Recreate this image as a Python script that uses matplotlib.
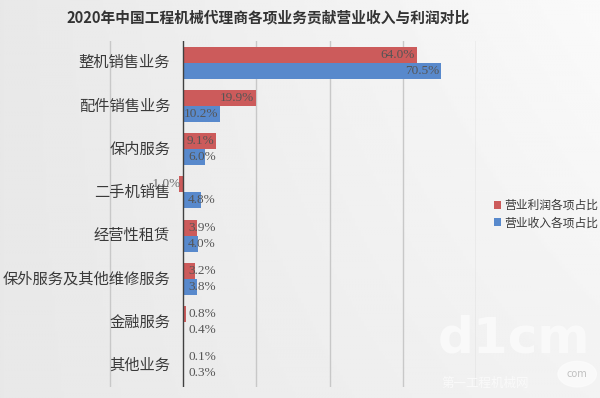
import numpy as np
import matplotlib
matplotlib.use('Agg')
import matplotlib.pyplot as plt
from matplotlib.patches import Circle

plt.rcParams['font.family'] = ['Noto Sans CJK SC', 'DejaVu Sans']

title = '2020年中国工程机械代理商各项业务贡献营业收入与利润对比'
categories = ['整机销售业务', '配件销售业务', '保内服务', '二手机销售',
              '经营性租赁', '保外服务及其他维修服务', '金融服务', '其他业务']
profit_share = [64.0, 19.9, 9.1, -1.0, 3.9, 3.2, 0.8, 0.1]
revenue_share = [70.5, 10.2, 6.0, 4.8, 4.0, 3.8, 0.4, 0.3]
series_names = ['营业利润各项占比', '营业收入各项占比']

red = '#cc5b5b'
blue = '#5889cc'

fig = plt.figure(figsize=(6, 3.98), dpi=100)

# soft gray background gradient
bg = fig.add_axes([0, 0, 1, 1], zorder=-10)
gx, gy = np.meshgrid(np.linspace(0, 1, 200), np.linspace(0, 1, 200))
shade = 0.91 + 0.07 * gx - 0.03 * gy * gx
bg.imshow(shade, cmap='gray', vmin=0, vmax=1, aspect='auto',
          extent=[0, 1, 0, 1], origin='upper')
bg.axis('off')

# axes: 0% at x=183px, 80% at x=476px
x0, x1 = 10 / 600, 476 / 600
ax = fig.add_axes([x0, 1 - 387 / 398, x1 - x0, (387 - 41) / 398])
ax.patch.set_alpha(0)
xmin = -(183 - 10) / ((476 - 183) / 80)
ax.set_xlim(xmin, 80)
ax.set_ylim(len(categories) - 0.5, -0.5)

y = np.arange(len(categories))
h = 0.37
ax.barh(y - h / 2, profit_share, height=h, color=red, label=series_names[0])
ax.barh(y + h / 2, revenue_share, height=h, color=blue, label=series_names[1])

ax.set_xticks([-20, 20, 40, 60, 80])
ax.grid(axis='x', color='#c8c8c8', linewidth=1.0)
ax.set_axisbelow(True)
ax.tick_params(length=0, labelbottom=False, labelleft=False)
for s in ax.spines.values():
    s.set_visible(False)
ax.axvline(0, color='#404040', linewidth=1.0, zorder=3)

# category labels
for yi, cat in zip(y, categories):
    ax.text(-3.5, yi, cat, ha='right', va='center', fontsize=11, color='#3a3a3a')

# value labels
def put_labels(vals, offset):
    for yi, v in zip(y, vals):
        txt = f'{v:.1f}%'
        if v < 0:
            ax.text(v + 0.3, yi + offset, txt, ha='right', va='center',
                    fontsize=9.5, color='#6a6a6a', family='Liberation Serif')
        elif v >= 9:
            ax.text(v - 0.6, yi + offset, txt, ha='right', va='center',
                    fontsize=9.5, color='#555555', family='Liberation Serif')
        else:
            ax.text(1.4, yi + offset, txt, ha='left', va='center',
                    fontsize=9.5, color='#555555', family='Liberation Serif')

put_labels(profit_share, -h / 2)
put_labels(revenue_share, h / 2)

fig.text(0.447, 0.955, title, ha='center', va='center', fontsize=10.6,
         fontweight='bold', color='#333333')

leg = fig.legend(loc='center left', bbox_to_anchor=(0.805, 0.462),
                 frameon=False, fontsize=8.5, handlelength=0.6,
                 handleheight=0.6, handletextpad=0.3, labelspacing=0.35)
for t in leg.get_texts():
    t.set_color('#3a3a3a')

# watermark
fig.text(0.73, 0.09, 'd1cm', fontsize=36, fontweight='bold', color='#fbfbfb',
         alpha=0.85, family='DejaVu Sans', ha='left', va='bottom')
fig.text(0.735, 0.02, '第一工程机械网', fontsize=9, color='#fbfbfb', alpha=0.9,
         ha='left', va='bottom')
fig.add_artist(Circle((0.962, 0.06), 0.032, transform=fig.transFigure,
                      color='#fbfbfb', alpha=0.85))
fig.text(0.962, 0.06, 'com', fontsize=7, color='#c0c0c0', ha='center',
         va='center', family='DejaVu Sans')

fig.savefig('out.png', dpi=100)
